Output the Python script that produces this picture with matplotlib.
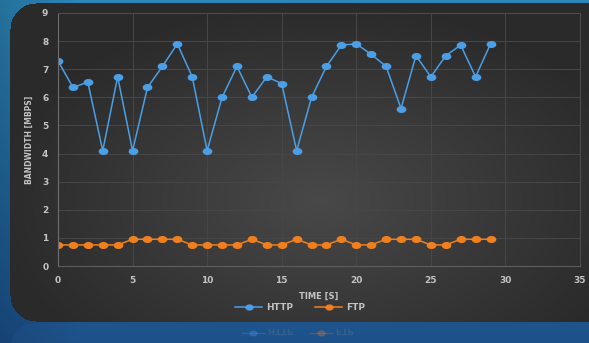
import matplotlib.pyplot as plt
import numpy as np
from matplotlib.textpath import TextPath
from matplotlib.patches import PathPatch
from matplotlib.font_manager import FontProperties
from matplotlib.transforms import Affine2D
from matplotlib.path import Path

time_s = list(range(30))
http = [7.3, 6.35, 6.54, 4.1, 6.73, 4.1, 6.35, 7.1, 7.9, 6.73,
        4.1, 6.0, 7.1, 6.0, 6.73, 6.49, 4.1, 6.0, 7.1, 7.86,
        7.9, 7.53, 7.1, 5.6, 7.48, 6.73, 7.48, 7.86, 6.73, 7.9]
ftp = [0.75, 0.75, 0.75, 0.75, 0.75, 0.95, 0.95, 0.95, 0.95, 0.75,
       0.75, 0.75, 0.75, 0.95, 0.75, 0.75, 0.95, 0.75, 0.75, 0.95,
       0.75, 0.75, 0.95, 0.95, 0.95, 0.75, 0.75, 0.95, 0.95, 0.95]

W, H = 589, 343
blue_c = '#4a9fe6'
orange_c = '#f07f1e'
txt_c = '#c4c4c4'

# slightly flattened round marker
ang = np.linspace(0, 2 * np.pi, 25)
ell = Path(np.column_stack([1.25 * np.cos(ang), 0.85 * np.sin(ang)]), closed=True)

fig = plt.figure(figsize=(W / 100, H / 100), dpi=100)

# background: blue gradient + dark rounded panel with soft radial light
yy, xx = np.mgrid[0:H, 0:W].astype(float)
t = yy / H
top = np.array([0x2c, 0x86, 0xb8]) / 255
bot = np.array([0x1a, 0x4e, 0x88]) / 255
img = top[None, None, :] * (1 - t[..., None]) + bot[None, None, :] * t[..., None]
img *= (0.85 + 0.15 * np.clip(xx / 80, 0, 1))[..., None]


def rounded_mask(x0, y0, x1, y1, r):
    cx = np.clip(xx, x0 + r, x1 - r)
    cy = np.clip(yy, y0 + r, y1 - r)
    return (xx - cx) ** 2 + (yy - cy) ** 2 <= r ** 2


panel = rounded_mask(10, 3, W + 40, 321, 26)
d = np.sqrt(((xx - 320) / 330) ** 2 + ((yy - 200) / 200) ** 2)
g = 0.165 + 0.12 * np.clip(1 - d, 0, 1)
img[panel] = np.stack([g, g, g], axis=-1)[panel]

# reflection of the panel below
refl = rounded_mask(10, 322, W + 40, 420, 26)
img[refl] = img[refl] * 0.8 + np.array([0x2c, 0x5e, 0x92]) / 255 * 0.2

bg = fig.add_axes([0, 0, 1, 1], zorder=0)
bg.imshow(img, extent=[0, W, H, 0], aspect='auto', interpolation='bilinear')
bg.set_xlim(0, W)
bg.set_ylim(H, 0)
bg.axis('off')

ax = fig.add_axes([58 / W, 1 - 266 / H, (580 - 58) / W, (266 - 13) / H], zorder=2)
ax.set_facecolor('none')
ax.plot(time_s, http, color=blue_c, lw=1.1, marker=ell, ms=6, mec=blue_c, label='HTTP')
ax.plot(time_s, ftp, color=orange_c, lw=1.1, marker=ell, ms=6, mec=orange_c, label='FTP')

ax.set_xlim(0, 35)
ax.set_ylim(0, 9)
ax.set_xticks(range(0, 36, 5))
ax.set_yticks(range(0, 10))
ax.grid(True, color='#474747', lw=0.7)
ax.set_axisbelow(True)
for s in ax.spines.values():
    s.set_color('#4c4c4c')
    s.set_linewidth(0.8)
ax.spines['left'].set_color('#6e6e6e')
ax.spines['bottom'].set_color('#5e5e5e')
ax.tick_params(length=0, labelsize=6.5, labelcolor=txt_c, pad=7)
for lab in ax.get_xticklabels() + ax.get_yticklabels():
    lab.set_fontweight('bold')
ax.set_xlabel('TIME [S]', fontsize=6, fontweight='bold', color=txt_c, labelpad=5)
ax.set_ylabel('BANDWIDTH [MBPS]', fontsize=5.5, fontweight='bold', color=txt_c, labelpad=6)

leg = fig.legend(loc='center', bbox_to_anchor=(300 / W, 1 - 308 / H), ncol=2, frameon=False,
                 fontsize=6.5, handlelength=3, columnspacing=2.5, handletextpad=0.4,
                 markerscale=0.85)
for tx in leg.get_texts():
    tx.set_color(txt_c)
    tx.set_fontweight('bold')

# faint mirrored legend in the reflection
fp = FontProperties(family='DejaVu Sans', weight='bold')
for x0, label, col in [(268, 'HTTP', blue_c), (336, 'FTP', orange_c)]:
    bg.plot([x0 - 26, x0 - 4], [333, 333], color=col, lw=1, alpha=0.25)
    bg.plot([x0 - 15], [333], marker=ell, color=col, ms=5, alpha=0.25, ls='none')
    tp = TextPath((0, 0), label, size=8.5, prop=fp)
    tr = Affine2D().translate(x0, 329)
    bg.add_patch(PathPatch(tr.transform_path(tp), color=txt_c, alpha=0.12, lw=0))

fig.savefig('out.png', dpi=100)
